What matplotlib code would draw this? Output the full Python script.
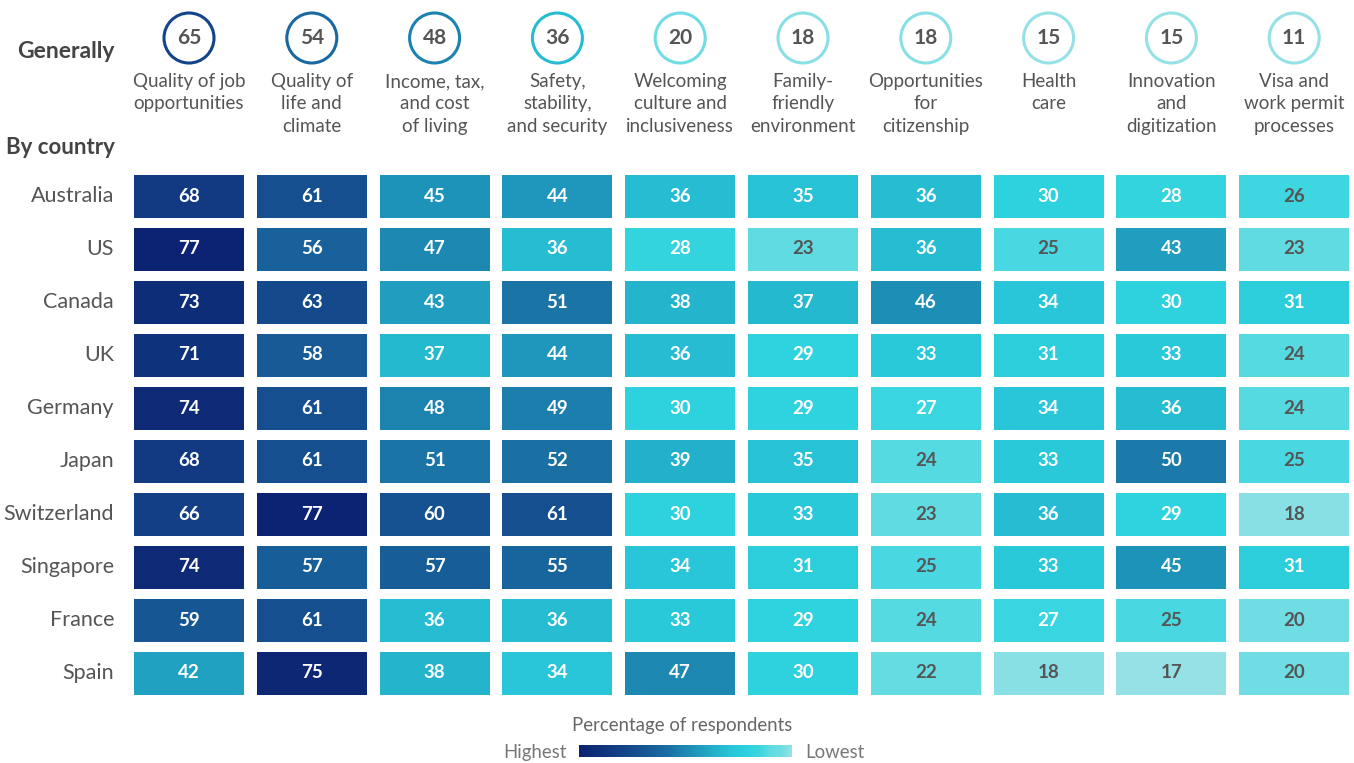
import numpy as np
import matplotlib
matplotlib.use("Agg")
import matplotlib.pyplot as plt
from matplotlib.colors import LinearSegmentedColormap
from matplotlib.patches import Rectangle, Circle

plt.rcParams['font.family'] = ['Lato', 'DejaVu Sans']

factors = ["Quality of job\nopportunities", "Quality of\nlife and\nclimate",
           "Income, tax,\nand cost\nof living", "Safety,\nstability,\nand security",
           "Welcoming\nculture and\ninclusiveness", "Family-\nfriendly\nenvironment",
           "Opportunities\nfor\ncitizenship", "Health\ncare",
           "Innovation\nand\ndigitization", "Visa and\nwork permit\nprocesses"]
generally = [65, 54, 48, 36, 20, 18, 18, 15, 15, 11]
countries = ["Australia", "US", "Canada", "UK", "Germany", "Japan",
             "Switzerland", "Singapore", "France", "Spain"]
values = [
    [68, 61, 45, 44, 36, 35, 36, 30, 28, 26],
    [77, 56, 47, 36, 28, 23, 36, 25, 43, 23],
    [73, 63, 43, 51, 38, 37, 46, 34, 30, 31],
    [71, 58, 37, 44, 36, 29, 33, 31, 33, 24],
    [74, 61, 48, 49, 30, 29, 27, 34, 36, 24],
    [68, 61, 51, 52, 39, 35, 24, 33, 50, 25],
    [66, 77, 60, 61, 30, 33, 23, 36, 29, 18],
    [74, 57, 57, 55, 34, 31, 25, 33, 45, 31],
    [59, 61, 36, 36, 33, 29, 24, 27, 25, 20],
    [42, 75, 38, 34, 47, 30, 22, 18, 17, 20],
]

# colour scale anchored on value
vmin, vmax = 17, 77
stops = [(17, "#96e1e5"), (20, "#6ddde3"), (23, "#60dbe2"), (26, "#3dd6e0"),
         (29, "#2fd3df"), (34, "#28c6d8"), (38, "#24b4cc"), (45, "#1e93b9"),
         (52, "#1a6fa3"), (61, "#154f8f"), (68, "#113a82"), (77, "#0c2272")]
cmap = LinearSegmentedColormap.from_list(
    "bcg", [((v - vmin) / (vmax - vmin), c) for v, c in stops])
def col(v):
    return cmap(np.clip((v - vmin) / (vmax - vmin), 0, 1))

W, H = 1354, 763
fig = plt.figure(figsize=(W / 100, H / 100), dpi=100)
ax = fig.add_axes([0, 0, 1, 1])
ax.set_xlim(0, W)
ax.set_ylim(H, 0)
ax.axis("off")

x0, dx, cw = 189, 122.8, 110
y0, dy, ch = 196, 53.0, 43
grey = "#555555"

for j, (lab, g) in enumerate(zip(factors, generally)):
    xc = x0 + j * dx
    ax.add_patch(Circle((xc, 38), 25, facecolor="white", edgecolor=col(g), lw=2.2))
    ax.text(xc, 38, str(g), ha="center", va="center", fontsize=15,
            fontweight="bold", color=grey)
    ax.text(xc, 73, lab, ha="center", va="top", fontsize=13.5, color="#555555",
            linespacing=1.38)

ax.text(115, 51, "Generally", ha="right", va="center", fontsize=16.5,
        fontweight="bold", color="#444444")
ax.text(115, 148, "By country", ha="right", va="center", fontsize=16,
        fontweight="bold", color="#444444")

for i, (cname, row) in enumerate(zip(countries, values)):
    yc = y0 + i * dy
    ax.text(114, yc, cname, ha="right", va="center", fontsize=15.5, color="#555555")
    for j, v in enumerate(row):
        xc = x0 + j * dx
        ax.add_patch(Rectangle((xc - cw / 2, yc - ch / 2), cw, ch,
                               facecolor=col(v), edgecolor="none"))
        ax.text(xc, yc, str(v), ha="center", va="center", fontsize=13.5,
                fontweight="bold", color="white" if v >= 27 else grey)

# legend
ax.text(682, 725, "Percentage of respondents", ha="center", va="center",
        fontsize=13.4, color="#666666")
grad = np.linspace(1, 0, 256).reshape(1, -1)
ax.imshow(grad, cmap=cmap, aspect="auto", extent=(579, 792, 757, 745))
ax.text(567, 758, "Highest", ha="right", va="baseline", fontsize=13.4, color="#777777")
ax.text(805, 758, "Lowest", ha="left", va="baseline", fontsize=13.4, color="#777777")

fig.savefig("out.png", dpi=100)
